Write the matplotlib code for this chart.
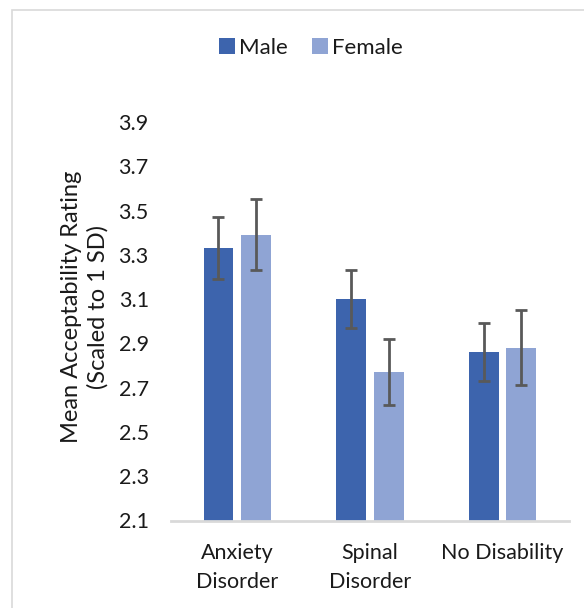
import matplotlib
matplotlib.use('Agg')
import matplotlib.pyplot as plt
import numpy as np
from matplotlib.patches import Rectangle

plt.rcParams['font.family'] = ['Lato', 'DejaVu Sans']

categories = ['Anxiety\nDisorder', 'Spinal\nDisorder', 'No Disability']
male_means = [3.33, 3.10, 2.86]
female_means = [3.39, 2.77, 2.88]
male_err = [0.14, 0.13, 0.13]
female_err = [0.16, 0.15, 0.17]
y_ticks = [2.1, 2.3, 2.5, 2.7, 2.9, 3.1, 3.3, 3.5, 3.7, 3.9]

MALE_COLOR = '#3d64ad'
FEMALE_COLOR = '#8fa4d4'
TEXT_COLOR = '#1a1a1a'

fig = plt.figure(figsize=(5.84, 6.08), dpi=100)
# light grey frame round the chart, open to the right and bottom like the crop
fig.patches.append(Rectangle((12 / 584, -0.02), 1.05, 1 - 9.5 / 608 + 0.02,
                             transform=fig.transFigure, fill=False,
                             edgecolor='#d9d9d9', linewidth=1.2))

ax = fig.add_axes([171 / 584, 1 - 520.5 / 608, (568.7 - 171) / 584, (520.5 - 122) / 608])

x = np.arange(len(categories))
width = 0.225
offset = 0.142
err_kw = dict(ecolor='#595959', elinewidth=2, capsize=4.5, capthick=2)
ax.bar(x - offset, male_means, width, color=MALE_COLOR,
       yerr=male_err, error_kw=err_kw, label='Male', zorder=2)
ax.bar(x + offset, female_means, width, color=FEMALE_COLOR,
       yerr=female_err, error_kw=err_kw, label='Female', zorder=2)

ax.set_xlim(-0.5, len(categories) - 0.5)
ax.set_ylim(2.1, 3.9)
ax.set_yticks(y_ticks)
ax.set_yticklabels([f'{v:.1f}' for v in y_ticks])
ax.set_xticks(x)
ax.set_xticklabels(categories, linespacing=1.6)

for side in ['top', 'right', 'left']:
    ax.spines[side].set_visible(False)
ax.spines['bottom'].set_color('#d9d9d9')
ax.spines['bottom'].set_linewidth(2)
ax.tick_params(axis='both', length=0, labelsize=15.5, colors=TEXT_COLOR)
ax.tick_params(axis='y', pad=16)
ax.tick_params(axis='x', pad=16)

ax.set_ylabel('Mean Acceptability Rating\n(Scaled to 1 SD)', fontsize=17,
              color=TEXT_COLOR, linespacing=1.25)
ax.yaxis.set_label_coords(-0.158, 0.535)

fig.legend(loc='center', bbox_to_anchor=(311 / 584, 1 - 48 / 608), ncol=2,
           frameon=False, fontsize=16, handlelength=0.7, handleheight=0.7,
           handletextpad=0.2, columnspacing=1.1, labelcolor=TEXT_COLOR)

plt.savefig('out.png', dpi=100)
